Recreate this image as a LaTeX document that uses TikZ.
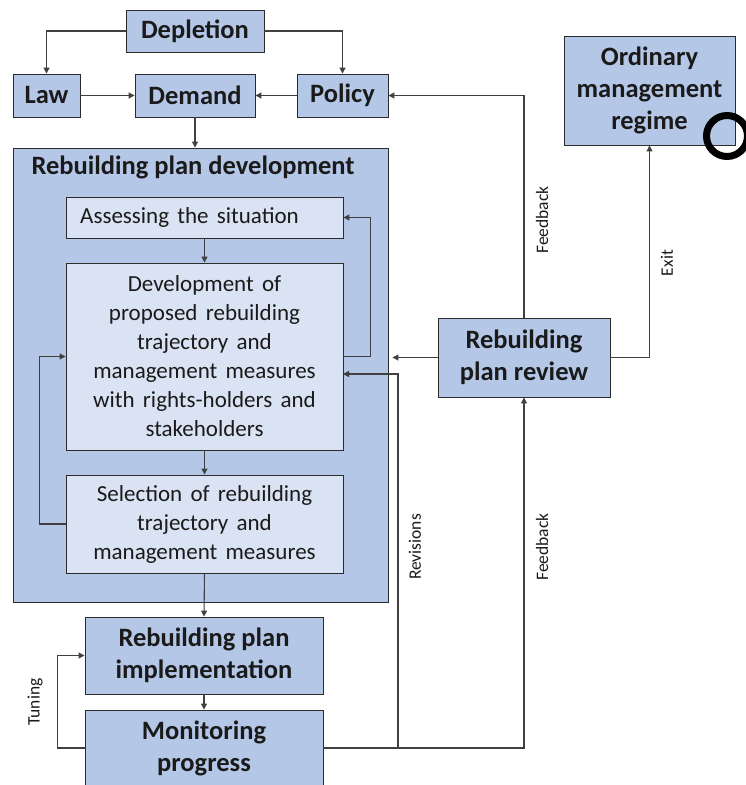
\documentclass[tikz,border=0pt]{standalone}
\usepackage{fontspec}
\setmainfont{Carlito}
\usetikzlibrary{arrows.meta,calc}
\definecolor{boxblue}{HTML}{B4C7E7}
\definecolor{lightblue}{HTML}{DAE3F3}
\definecolor{edge}{HTML}{2B2B2B}
\definecolor{conn}{HTML}{404040}
\definecolor{txt}{HTML}{1A1A1A}
\newcommand\wsp{\spaceskip=0.36em plus 0.1em\relax}
\tikzset{
  bbox/.style={draw=edge, line width=0.9pt, fill=boxblue, inner sep=0pt, align=center,
    font=\fontsize{26.5}{32}\selectfont\bfseries, text=txt},
  lbox/.style={draw=edge, line width=0.9pt, fill=lightblue, inner sep=0pt, align=center,
    font=\fontsize{23}{29}\selectfont, text=txt},
  arr/.style={draw=conn, line width=1.1pt, -{Triangle[length=6pt,width=6pt]}},
  lab/.style={rotate=90, font=\fontsize{17.5}{19}\selectfont, text=txt, inner sep=0pt}
}
\begin{document}
\begin{tikzpicture}[x=1pt,y=-1pt]
\useasboundingbox (0,0) rectangle (746,785);
% outer development box
\node[bbox, minimum width=375, minimum height=454] (rpd) at (200.5,375) {};
\node[font=\fontsize{26.5}{32}\selectfont\bfseries, text=txt, inner sep=0pt] (rpdt) at (193,167) {Rebuilding plan development};
% top row
\node[bbox, minimum width=138, minimum height=42] (dep) at (195,31) {Depletion};
\node[bbox, minimum width=67, minimum height=43] (law) at (46.5,95.5) {Law};
\node[bbox, minimum width=120, minimum height=43] (dem) at (195,95.5) {Demand};
\node[bbox, minimum width=91, minimum height=43] (pol) at (342.5,95.5) {Policy};
% inner boxes
\node[lbox, minimum width=277, minimum height=41] (ass) at (204.5,217.5) {\wsp Assessing the situation\hspace*{30pt}};
\node[lbox, minimum width=277, minimum height=187] (dev) at (204.5,356.5) {\wsp Development of\\\wsp proposed rebuilding\\\wsp trajectory and\\\wsp management measures\\\wsp with rights-holders and\\stakeholders};
\node[lbox, minimum width=277, minimum height=98] (sel) at (204.5,524) {\wsp Selection of rebuilding\\\wsp trajectory and\\\wsp management measures};
% lower boxes
\node[bbox, minimum width=238, minimum height=77] (imp) at (204,655.5) {Rebuilding plan\\implementation};
\node[bbox, minimum width=238, minimum height=76] (mon) at (204,748) {Monitoring\\progress};
% right boxes
\node[bbox, minimum width=172, minimum height=79] (rev) at (524,357.5) {Rebuilding\\plan review};
\node[bbox, minimum width=171, minimum height=109] (ord) at (649.5,90.5) {Ordinary\\management\\regime};
% coordinates
\coordinate (rj) at (398,748);
\coordinate (devr) at (343,374);
% connectors
\draw[arr] (dep.west) -| (law.north);
\draw[arr] (dep.east) -| (pol.north);
\draw[arr] (law.east) -- (dem.west);
\draw[arr] (pol.west) -- (dem.east);
\draw[arr] (dem.south) -- (dem.south |- rpd.north);
\draw[arr] (ass.south) -- (dev.north);
\draw[arr] (dev.south) -- (sel.north);
\draw[arr] (dev.east) -- ++(27,0) |- (ass.east);
\draw[arr] (sel.west) -- ++(-26,0) |- (dev.west);
\draw[arr] (sel.south) -- (imp.north);
\draw[arr] (imp.south) -- (mon.north);
\draw[arr] (mon.west) -- ++(-27,0) |- (imp.west);
\draw[arr] (mon.east) -| (rev.south);
\draw[arr] (rj) |- (devr);
\draw[arr] (rev.west) -- ($(rpd.east |- rev.west)+(4,0)$);
\draw[arr] (rev.north) |- (pol.east);
\draw[arr] (rev.east) -| (ord.south);
% labels
\node[lab] (l1) at (542,220) {Feedback};
\node[lab] (l2) at (667,263) {Exit};
\node[lab] (l3) at (415,547) {Revisions};
\node[lab] (l4) at (542,547) {Feedback};
\node[lab] (l5) at (35,702) {Tuning};
% cursor ring
\draw[line width=7pt, black] (727,136) circle (20.5);
\end{tikzpicture}
\end{document}
